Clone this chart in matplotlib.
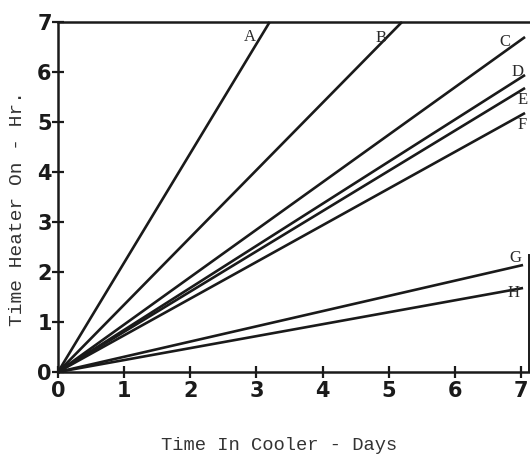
import matplotlib
matplotlib.use("Agg")
import matplotlib.pyplot as plt

# Data: lines from origin to end points
labels = ["A", "B", "C", "D", "E", "F", "G", "H"]
end_x = [3.20, 5.20, 7.06, 7.06, 7.06, 7.06, 7.03, 7.03]
end_y = [7.0, 7.0, 6.70, 5.94, 5.68, 5.18, 2.14, 1.68]
label_x = [2.90, 4.88, 6.76, 6.94, 7.03, 7.02, 6.91, 6.88]
label_y = [6.70, 6.68, 6.60, 6.00, 5.44, 4.94, 2.28, 1.58]
x_ticks = [0, 1, 2, 3, 4, 5, 6, 7]
y_ticks = [0, 1, 2, 3, 4, 5, 6, 7]

fig = plt.figure(figsize=(5.30, 4.57), dpi=100)
ax = fig.add_axes([58/530, 1-372/457, (529-58)/530, (372-22)/457])

ink = "#1a1a1a"
for lab, ex, ey, lx, ly in zip(labels, end_x, end_y, label_x, label_y):
    ax.plot([0, ex], [0, ey], color=ink, lw=1.9, solid_capstyle="butt", clip_on=False)
    ax.text(lx, ly, lab, fontsize=12, family="Liberation Serif", color="#2a2a2a",
            ha="center", va="center")

ax.set_xlim(0, 7.12)
ax.set_ylim(0, 7)
ax.set_xticks(x_ticks)
ax.set_yticks(y_ticks)
ax.set_xticklabels([str(t) for t in x_ticks], fontsize=15, fontweight="bold", color=ink)
ax.set_yticklabels([str(t) for t in y_ticks], fontsize=15, fontweight="bold", color=ink)
ax.tick_params(direction="inout", length=9, width=1.6, color=ink)
ax.tick_params(axis="x", pad=2)
ax.tick_params(axis="y", pad=0)

for s in ["left", "bottom", "top"]:
    ax.spines[s].set_linewidth(1.8)
    ax.spines[s].set_color(ink)
ax.spines["right"].set_linewidth(1.4)
ax.spines["right"].set_color(ink)
ax.spines["right"].set_bounds(0, 2.35)

fig.text(279/530, 1-445/457, "Time In Cooler - Days", fontsize=13.5,
         family="Liberation Mono", color="#333333", ha="center", va="center")
fig.text(18/530, 1-209/457, "Time Heater On - Hr.", fontsize=14,
         family="Liberation Mono", color="#333333", ha="center", va="center",
         rotation=90)

fig.savefig("out.png", dpi=100)
